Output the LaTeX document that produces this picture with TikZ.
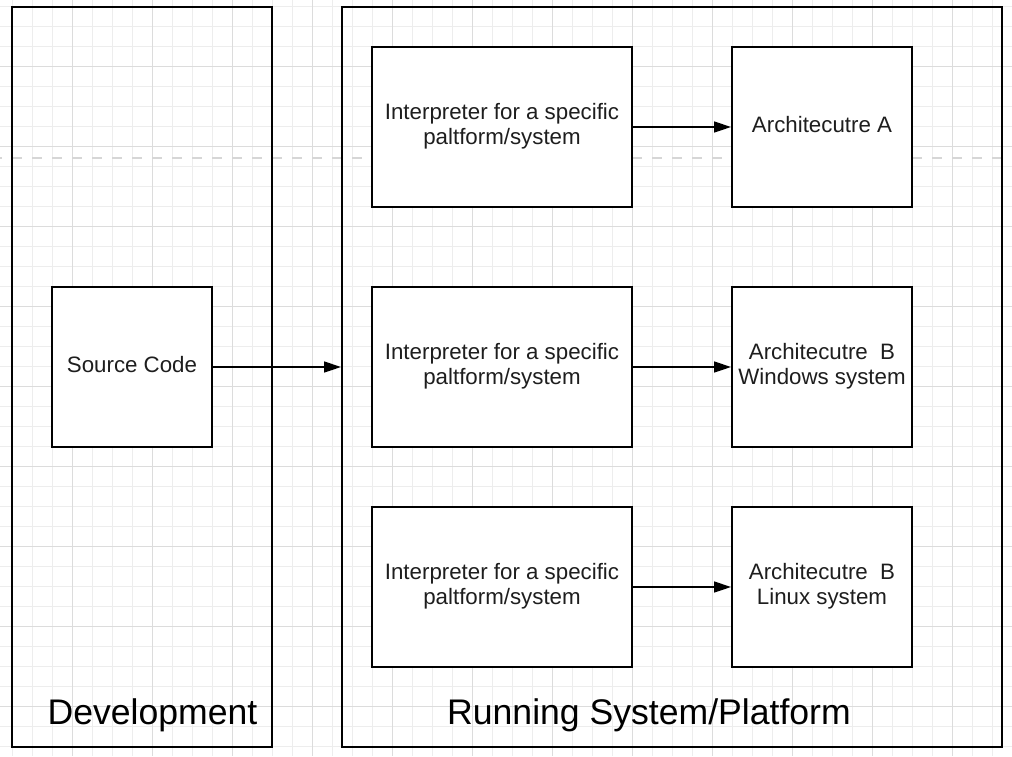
\documentclass[tikz,border=0pt]{standalone}
\usepackage{fontspec}
\setmainfont{Liberation Sans}
\usetikzlibrary{arrows.meta}
\definecolor{gridminor}{HTML}{EDEDED}
\definecolor{gridmajor}{HTML}{DCDCDC}
\definecolor{dashgray}{HTML}{D6D6D6}
\definecolor{txt}{HTML}{1E1E1E}
\tikzset{
  panel/.style={draw=black, line width=2pt},
  box/.style={draw=black, fill=white, line width=2pt, inner sep=0pt, text=txt, align=center,
    font=\fontsize{22.3}{25}\selectfont},
  paneltext/.style={font=\fontsize{35.6}{40}\selectfont, text=black, anchor=base},
  conn/.style={line width=1.5pt, -{Triangle[length=17pt,width=11pt]}}
}
\begin{document}
\begin{tikzpicture}[x=1pt,y=-1pt]
\useasboundingbox (0,0) rectangle (1012,756);
\fill[white] (0,0) rectangle (1012,756);
% grid
\foreach \gx in {12,32,...,1012} \draw[gridminor, line width=1pt] (\gx,0) -- (\gx,756);
\foreach \gy in {6,26,...,756} \draw[gridminor, line width=1pt] (0,\gy) -- (1012,\gy);
\foreach \gx in {72,152,...,1012} \draw[gridmajor, line width=1pt] (\gx,0) -- (\gx,756);
\foreach \gy in {66,146,...,756} \draw[gridmajor, line width=1pt] (0,\gy) -- (1012,\gy);
% dashed guide
\coordinate (dl) at (0,158);
\coordinate (dr) at (1002,158);
\draw[dashgray, line width=2.7pt, dash pattern=on 10pt off 10pt, dash phase=8pt] (dl) -- (dr);
% panels
\node[panel, minimum width=260pt, minimum height=740pt, inner sep=0pt] (dev) at (142,377) {};
\node[panel, minimum width=660pt, minimum height=740pt, inner sep=0pt] (run) at (672,377) {};
\node[paneltext] (devlbl) at (152.5,724) {Development};
\node[paneltext] (runlbl) at (649,724) {Running System/Platform};
% boxes
\node[box, minimum width=160pt, minimum height=160pt] (src) at (132,367) {\strut Source Code};
\node[box, minimum width=260pt, minimum height=160pt] (int1) at (502,127) {\strut Interpreter for a specific\\\strut paltform/system};
\node[box, minimum width=260pt, minimum height=160pt] (int2) at (502,367) {\strut Interpreter for a specific\\\strut paltform/system};
\node[box, minimum width=260pt, minimum height=160pt] (int3) at (502,587) {\strut Interpreter for a specific\\\strut paltform/system};
\node[box, minimum width=180pt, minimum height=160pt] (arA) at (822,127) {\strut Architecutre A};
\node[box, minimum width=180pt, minimum height=160pt] (arB) at (822,367) {\strut Architecutre\ \ B\\\strut Windows system};
\node[box, minimum width=180pt, minimum height=160pt] (arC) at (822,587) {\strut Architecutre\ \ B\\\strut Linux system};
% connectors
\draw[conn] (src.east) -- (run.west |- src.east);
\draw[conn] (int1.east) -- (arA.west);
\draw[conn] (int2.east) -- (arB.west);
\draw[conn] (int3.east) -- (arC.west);
\end{tikzpicture}
\end{document}
